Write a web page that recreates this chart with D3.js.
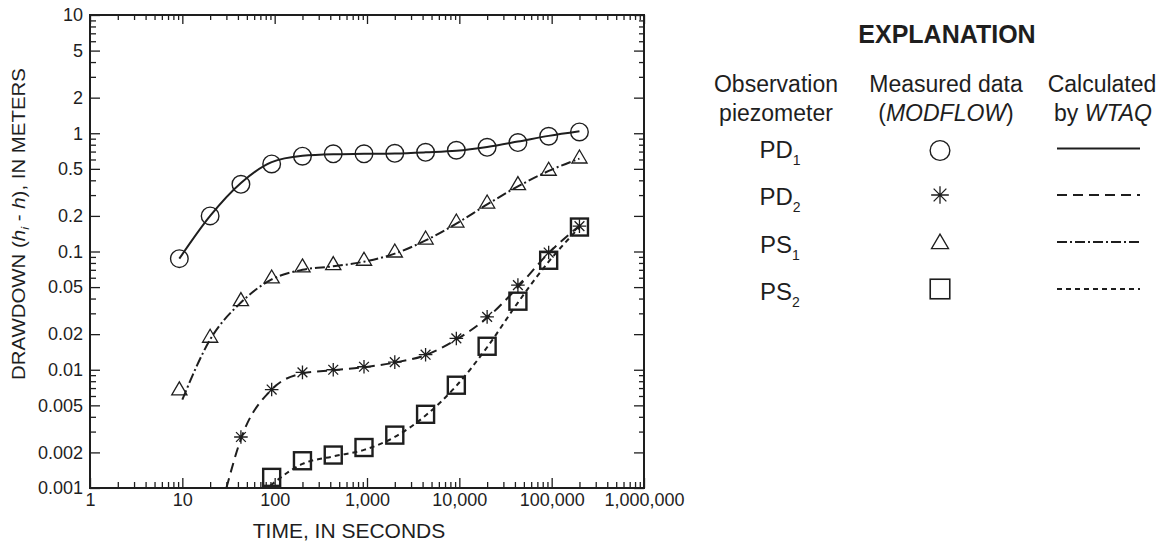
<!DOCTYPE html>
<html><head><meta charset="utf-8">
<script src="https://cdn.jsdelivr.net/npm/d3@7"></script>
<style>body{margin:0;background:#fff}svg{display:block}</style>
</head><body>
<svg id="c" width="1163" height="543"></svg>
<script>
// ---- data ----
const timeSec = [9.28, 20, 43.1, 92.8, 200, 431, 928, 2000, 4310, 9280, 20000, 43100, 92800, 200000];
const pd1Measured = [0.087, 0.2, 0.37, 0.55, 0.64, 0.67, 0.67, 0.677, 0.69, 0.718, 0.761, 0.834, 0.943, 1.026];
const pd2Time = [43.1, 92.8, 200, 431, 928, 2000, 4310, 9280, 20000, 43100, 92800, 200000];
const pd2Measured = [0.0027, 0.0068, 0.0095, 0.01, 0.0106, 0.0116, 0.0134, 0.0184, 0.028, 0.052, 0.098, 0.164];
const ps1Measured = [0.0069, 0.0192, 0.0392, 0.0609, 0.0755, 0.079, 0.086, 0.101, 0.130, 0.181, 0.262, 0.375, 0.496, 0.630];
const ps2Time = [92.8, 200, 431, 928, 2000, 4310, 9280, 20000, 43100, 92800, 200000];
const ps2Measured = [0.00123, 0.0017, 0.0019, 0.0022, 0.0028, 0.0042, 0.0074, 0.0158, 0.038, 0.0843, 0.161];

// calculated by WTAQ (curves)
const pd1CalcTime = [9.28, 20, 43.1, 92.8, 200, 431, 928, 2000, 4310, 9280, 20000, 43100, 92800, 200000];
const pd1Calc = [0.087, 0.2, 0.38, 0.57, 0.645, 0.665, 0.67, 0.675, 0.69, 0.71, 0.765, 0.85, 0.95, 1.04];
const pd2CalcTime = [30, 43.1, 92.8, 200, 431, 928, 2000, 4310, 9280, 20000, 43100, 92800, 200000];
const pd2Calc = [0.001, 0.0026, 0.0068, 0.0093, 0.0099, 0.0105, 0.0115, 0.0133, 0.018, 0.0275, 0.05, 0.097, 0.165];
const ps1CalcTime = [10, 20, 43.1, 92.8, 200, 431, 928, 2000, 4310, 9280, 20000, 43100, 92800, 200000];
const ps1Calc = [0.0056, 0.018, 0.037, 0.058, 0.07, 0.075, 0.082, 0.096, 0.124, 0.172, 0.25, 0.355, 0.48, 0.61];
const ps2CalcTime = [90, 200, 431, 928, 2000, 4310, 9280, 20000, 43100, 92800, 200000];
const ps2Calc = [0.00105, 0.0016, 0.00185, 0.0021, 0.0027, 0.0041, 0.0073, 0.0155, 0.037, 0.082, 0.16];

const xTickValues = [1, 10, 100, 1000, 10000, 100000, 1000000];
const xTickLabels = ["1", "10", "100", "1,000", "10,000", "100,000", "1,000,000"];
const yTickValues = [0.001, 0.002, 0.005, 0.01, 0.02, 0.05, 0.1, 0.2, 0.5, 1, 2, 5, 10];
const yTickLabels = ["0.001", "0.002", "0.005", "0.01", "0.02", "0.05", "0.1", "0.2", "0.5", "1", "2", "5", "10"];

const seriesNames = ["PD", "PD", "PS", "PS"];
const seriesSubs = ["1", "2", "1", "2"];

// ---- drawing ----
const FONT = "'Liberation Sans', Arial, Helvetica, sans-serif";
const INK = "#1e1e1e";
const svg = d3.select("#c");
const L = 90, R = 644, T = 15, B = 488;
const x = d3.scaleLog().domain([1, 1e6]).range([L, R]);
const y = d3.scaleLog().domain([0.001, 10]).range([B, T]);

const near = (a, arr) => arr.findIndex(v => Math.abs(a / v - 1) < 1e-6);
const xTicks = x.ticks();
const yTicks = y.ticks();
const xFmt = d => { const i = near(d, xTickValues); return i >= 0 ? xTickLabels[i] : ""; };
const yFmt = d => { const i = near(d, yTickValues); return i >= 0 ? yTickLabels[i] : ""; };

function styleAxis(g, isMajor, attr, sign, majorLen, minorLen) {
  g.select(".domain").remove();
  g.attr("font-family", FONT).attr("font-size", 18).attr("fill", INK);
  g.selectAll(".tick line").attr("stroke", INK).attr("stroke-width", 1.3)
    .attr(attr, d => sign * (isMajor(d) ? majorLen : minorLen));
  g.selectAll(".tick text").attr("fill", INK);
}
const xMajor = d => near(d, xTickValues) >= 0;
const yMajor = d => near(d, yTickValues) >= 0;

const gb = svg.append("g").attr("transform", `translate(0,${B})`)
  .call(d3.axisBottom(x).tickValues(xTicks).tickSize(-6).tickPadding(5).tickFormat(xFmt));
styleAxis(gb, xMajor, "y2", -1, 10, 6);
const gt = svg.append("g").attr("transform", `translate(0,${T})`)
  .call(d3.axisTop(x).tickValues(xTicks).tickSize(-6).tickFormat(() => ""));
styleAxis(gt, xMajor, "y2", 1, 9, 5);
const gl = svg.append("g").attr("transform", `translate(${L},0)`)
  .call(d3.axisLeft(y).tickValues(yTicks).tickSize(-6).tickPadding(7).tickFormat(yFmt));
styleAxis(gl, yMajor, "x2", 1, 10, 6);
const gr = svg.append("g").attr("transform", `translate(${R},0)`)
  .call(d3.axisRight(y).tickValues(yTicks).tickSize(-6).tickFormat(() => ""));
styleAxis(gr, yMajor, "x2", -1, 10, 5);

svg.append("rect").attr("x", L).attr("y", T).attr("width", R - L).attr("height", B - T)
  .attr("fill", "none").attr("stroke", INK).attr("stroke-width", 2);

// axis titles
svg.append("text").attr("x", 349).attr("y", 538).attr("text-anchor", "middle")
  .attr("font-family", FONT).attr("font-size", 21).attr("fill", INK).text("TIME, IN SECONDS");
const yt = svg.append("text").attr("transform", "translate(25,224) rotate(-90)")
  .attr("text-anchor", "middle").attr("font-family", FONT).attr("font-size", 17.5).attr("fill", INK)
  .attr("textLength", 312).attr("lengthAdjust", "spacingAndGlyphs");
yt.append("tspan").text("DRAWDOWN (");
yt.append("tspan").attr("font-style", "italic").text("h");
yt.append("tspan").attr("font-style", "italic").attr("font-size", 11).attr("dy", 4).text("i");
yt.append("tspan").attr("dy", -4).text(" - ");
yt.append("tspan").attr("font-style", "italic").text("h");
yt.append("tspan").text("), IN METERS");

// curves
svg.append("defs").append("clipPath").attr("id", "pc").append("rect")
  .attr("x", L).attr("y", T).attr("width", R - L).attr("height", B - T);
const dashes = [null, "10,6", "10,3,2,3", "5,4"];
const calcSets = [[pd1CalcTime, pd1Calc], [pd2CalcTime, pd2Calc], [ps1CalcTime, ps1Calc], [ps2CalcTime, ps2Calc]];
const line = d3.line().x(d => x(d[0])).y(d => y(d[1])).curve(d3.curveMonotoneX);
const cg = svg.append("g").attr("clip-path", "url(#pc)");
calcSets.forEach((s, i) => {
  const pts = s[0].map((t, k) => [t, s[1][k]]);
  cg.append("path").attr("d", line(pts)).attr("fill", "none").attr("stroke", INK)
    .attr("stroke-width", 2).attr("stroke-dasharray", dashes[i]);
});

// marker shapes
function drawMarker(g, type, cx, cy, big) {
  const k = big ? 1.12 : 1;
  if (type === 0) {
    g.append("circle").attr("cx", cx).attr("cy", cy).attr("r", 8.8 * k)
      .attr("fill", "none").attr("stroke", INK).attr("stroke-width", 1.4);
  } else if (type === 1) {
    const s = 6.8 * (big ? 1.3 : 1), d = s * 0.72;
    g.append("path").attr("d",
      `M${cx - s},${cy}H${cx + s}M${cx},${cy - s}V${cy + s}M${cx - d},${cy - d}L${cx + d},${cy + d}M${cx - d},${cy + d}L${cx + d},${cy - d}`)
      .attr("stroke", INK).attr("stroke-width", 1.3).attr("fill", "none");
  } else if (type === 2) {
    const w = 7.6 * k;
    g.append("path").attr("d", `M${cx},${cy - 7 * k}L${cx + w},${cy + 6 * k}L${cx - w},${cy + 6 * k}Z`)
      .attr("fill", "none").attr("stroke", INK).attr("stroke-width", 1.3);
  } else {
    const h = 8.5 * (big ? 1.15 : 1);
    g.append("rect").attr("x", cx - h).attr("y", cy - h).attr("width", 2 * h).attr("height", 2 * h)
      .attr("fill", "none").attr("stroke", INK).attr("stroke-width", big ? 1.6 : 2.4);
  }
}
const measSets = [[timeSec, pd1Measured], [pd2Time, pd2Measured], [timeSec, ps1Measured], [ps2Time, ps2Measured]];
const mg = svg.append("g");
measSets.forEach((s, i) => {
  s[0].forEach((t, k) => drawMarker(mg, i, x(t), y(s[1][k]), false));
});

// legend
const lg = svg.append("g").attr("font-family", FONT).attr("fill", INK);
lg.append("text").attr("x", 947).attr("y", 43).attr("text-anchor", "middle").attr("fill", INK)
  .attr("font-size", 25).attr("font-weight", "bold").text("EXPLANATION");
const hdr = (tx, ty, parts) => {
  const t = lg.append("text").attr("x", tx).attr("y", ty).attr("text-anchor", "middle").attr("font-size", 23).attr("fill", INK);
  parts.forEach(p => t.append("tspan").attr("fill", INK).attr("font-style", p[1] ? "italic" : "normal").text(p[0]));
};
hdr(776, 92, [["Observation", false]]);
hdr(776, 121, [["piezometer", false]]);
hdr(946, 92, [["Measured data", false]]);
hdr(946, 121, [["(", false], ["MODFLOW", true], [")", false]]);
hdr(1102, 92, [["Calculated", false]]);
hdr(1103, 121, [["by ", false], ["WTAQ", true]]);
const rowBase = [158, 204.5, 252.5, 300];
const markY = [150.5, 195, 242, 289];
rowBase.forEach((by, i) => {
  const t = lg.append("text").attr("x", 780).attr("y", by).attr("text-anchor", "middle").attr("font-size", 24).attr("fill", INK);
  t.append("tspan").attr("fill", INK).text(seriesNames[i]);
  t.append("tspan").attr("fill", INK).attr("font-size", 14).attr("dy", 7).text(seriesSubs[i]);
  drawMarker(lg, i, 940, markY[i], true);
  lg.append("line").attr("x1", 1057).attr("x2", 1140).attr("y1", markY[i] - (i === 0 ? 2 : 0)).attr("y2", markY[i] - (i === 0 ? 2 : 0))
    .attr("stroke", INK).attr("stroke-width", 2.2).attr("stroke-dasharray", dashes[i]);
});
</script>
</body></html>
